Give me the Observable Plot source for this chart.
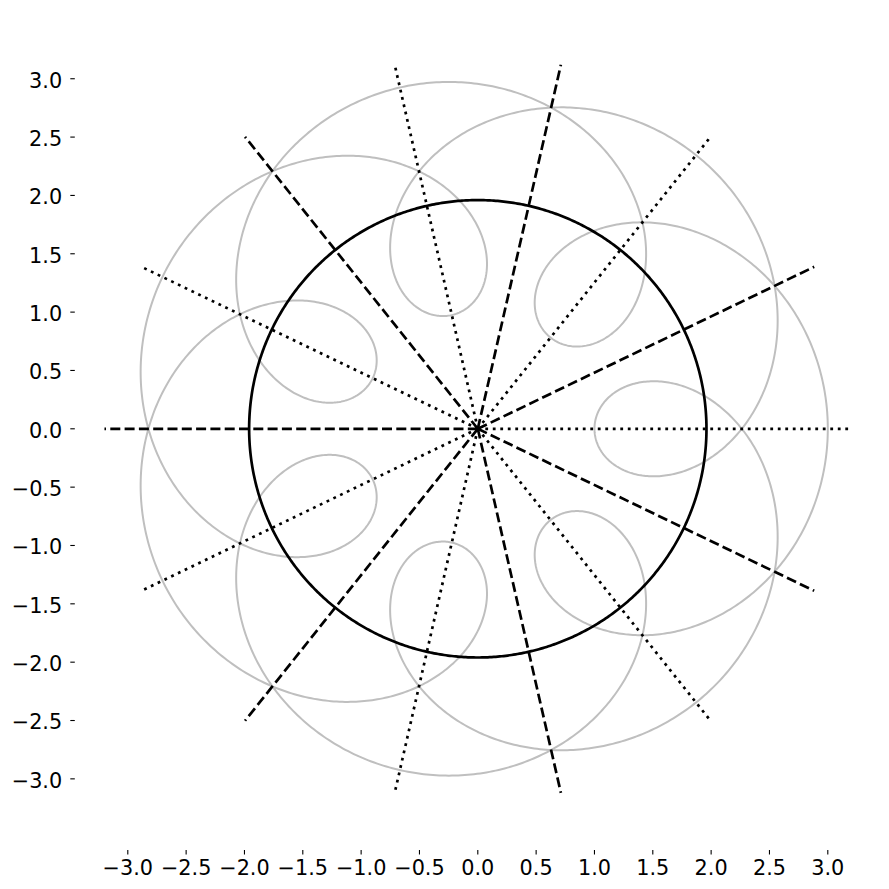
<!DOCTYPE html>
<html>
<head>
<meta charset="utf-8">
<script src="https://cdn.jsdelivr.net/npm/d3@7"></script>
<script src="https://cdn.jsdelivr.net/npm/@observablehq/plot@0.6"></script>
<style>
  html, body { margin: 0; padding: 0; background: #ffffff; }
  #chart { width: 889px; height: 889px; }
</style>
</head>
<body>
<div id="chart"></div>
<script>
// ---- values ----
// gray curve: sum of two rotating terms (radius, angular speed)
const curveRadii = [2, 1];
const curveSpeeds = [1, 4.5];
const curveTurns = 2;               // closes after two full turns (t in [0, 4π])
// black circle
const circleRadius = 1.96;
// rays from the origin
const rayAngles = [0, 25.71, 51.43, 77.14, 102.86, 128.57, 154.29, 180,
                   205.71, 231.43, 257.14, 282.86, 308.57, 334.29];
const rayStyles = ["dotted", "dashed", "dotted", "dashed", "dotted", "dashed", "dotted",
                   "dashed", "dotted", "dashed", "dotted", "dashed", "dotted", "dashed"];
const rayLength = 3.2;
// axis ticks
const xTicks = [-3.0, -2.5, -2.0, -1.5, -1.0, -0.5, 0.0, 0.5, 1.0, 1.5, 2.0, 2.5, 3.0];
const yTicks = [-3.0, -2.5, -2.0, -1.5, -1.0, -0.5, 0.0, 0.5, 1.0, 1.5, 2.0, 2.5, 3.0];

// ---- build tables ----
const N = 3000;
const curve = d3.range(N + 1).map(i => {
  const t = (i / N) * curveTurns * 2 * Math.PI;
  let x = 0, y = 0;
  curveRadii.forEach((r, k) => { x += r * Math.cos(curveSpeeds[k] * t); y += r * Math.sin(curveSpeeds[k] * t); });
  return {x, y};
});
const M = 720;
const circle = d3.range(M + 1).map(i => {
  const a = (i / M) * 2 * Math.PI;
  return {x: circleRadius * Math.cos(a), y: circleRadius * Math.sin(a)};
});
const rays = rayAngles.map((deg, i) => {
  const a = deg * Math.PI / 180;
  return {x2: rayLength * Math.cos(a), y2: rayLength * Math.sin(a), style: rayStyles[i]};
});

const fmt = d3.format(".1f");
const FONT = 20.8;
const LW = 2.7;

const chart = Plot.plot({
  width: 889,
  height: 889,
  marginLeft: 74.8,
  marginRight: 9.2,
  marginTop: 6.6,
  marginBottom: 39,
  style: {fontFamily: "'DejaVu Sans', sans-serif", fontSize: FONT + "px", background: "#ffffff", color: "#000"},
  x: {domain: [-3.45, 3.45]},
  y: {domain: [-3.614, 3.614]},
  marks: [
    Plot.line(curve, {x: "x", y: "y", stroke: "#bfbfbf", strokeWidth: 2}),
    Plot.line(circle, {x: "x", y: "y", stroke: "#000", strokeWidth: LW}),
    Plot.link(rays.filter(d => d.style === "dashed"), {
      x1: () => 0, y1: () => 0, x2: "x2", y2: "y2",
      stroke: "#000", strokeWidth: LW, strokeDasharray: "10,4.3", strokeLinecap: "butt"
    }),
    Plot.link(rays.filter(d => d.style === "dotted"), {
      x1: () => 0, y1: () => 0, x2: "x2", y2: "y2",
      stroke: "#000", strokeWidth: LW, strokeDasharray: "2.8,4.7", strokeLinecap: "butt"
    }),
    // x axis: ticks + labels
    Plot.axisX({ticks: xTicks, tickSize: 4.5, tickPadding: 5.5, tickFormat: fmt,
                fontSize: FONT, strokeWidth: 1.1, label: null}),
    // y axis: ticks only, then labels only (shifted slightly down like the reference)
    Plot.axisY({ticks: yTicks, tickSize: 4.5, fill: "none", strokeWidth: 1.1, label: null}),
    Plot.axisY({ticks: yTicks, tickSize: 0, tickPadding: 13.1, dy: 2.2, tickFormat: fmt,
                fontSize: FONT, label: null})
  ]
});
document.getElementById("chart").appendChild(chart);
</script>
</body>
</html>
